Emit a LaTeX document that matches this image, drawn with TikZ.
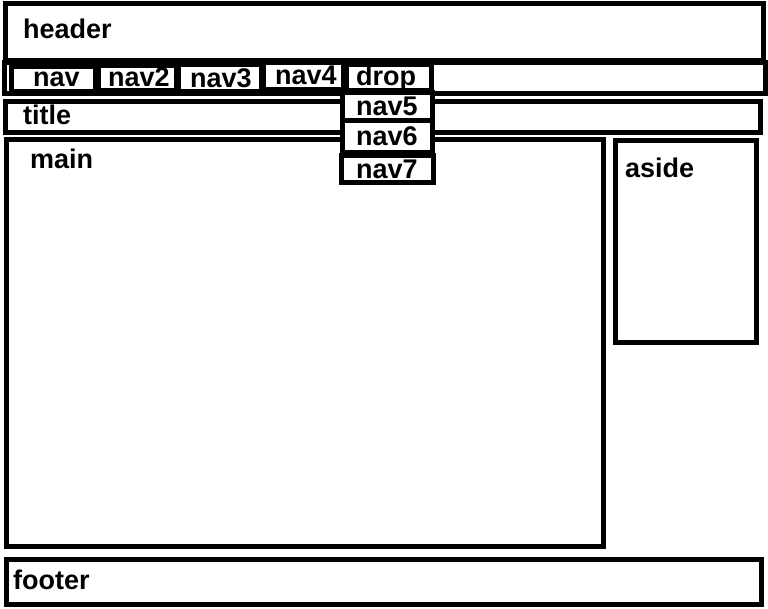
\documentclass[tikz,border=0pt]{standalone}
\usepackage{fontspec}
\setmainfont{Liberation Sans}
\usepackage{tikz}
\usetikzlibrary{calc}

\tikzset{
	box/.style={draw,line width=5pt,fill=white},
	lbl/.style={anchor=base west,inner sep=0pt,font=\fontsize{27}{31}\selectfont\bfseries}
}

\begin{document}
\begin{tikzpicture}[x=1pt,y=-1pt]
	\useasboundingbox[fill=white] (0,0) rectangle (768,608);
	
	%page boxes
	\draw[box] (5,3) rectangle (763,60);
	\draw[box] (4,62) rectangle (765,93.5);
	\draw[box] (5,101) rectangle (760,132);
	\draw[box] (6,139) rectangle (603,546);
	\draw[box] (615,140) rectangle (756,342);
	\draw[box] (6,559.5) rectangle (761,604.5);
	
	%menu items
	\draw[box] (11,66.5) rectangle (95,91.5);
	\draw[box] (98,65.5) rectangle (176,90.5);
	\draw[box] (178,64.5) rectangle (261,91);
	\draw[box] (263,62.5) rectangle (343,89.5);
	\draw[box] (346,64.5) rectangle (431,90.5);
	%
	\draw[box] (342.5,92.5) rectangle (432.5,120);
	\draw[box] (342.5,120) rectangle (432.5,152);
	\draw[box] (341.5,155.5) rectangle (433,182);
	
	%labels
	\node[lbl] (header) at (23,38)  {header};
	\node[lbl] (title)  at (23,124) {title};
	\node[lbl] (main)   at (30,168) {main};
	\node[lbl] (aside)  at (625,177){aside};
	\node[lbl] (footer) at (13,589) {footer};
	%
	\node[lbl] (nav)  at (33,86)  {nav};
	\node[lbl] (navb) at (108,86) {nav2};
	\node[lbl] (navc) at (190,87.5){nav3};
	\node[lbl] (navd) at (275,84) {nav4};
	\node[lbl] (drop) at (356,85) {drop};
	\node[lbl] (nave) at (356,115){nav5};
	\node[lbl] (navf) at (356,145){nav6};
	\node[lbl] (navg) at (356,178){nav7};
	
	%\draw[help lines] (0,0) grid (768,608);
\end{tikzpicture}
\end{document}
